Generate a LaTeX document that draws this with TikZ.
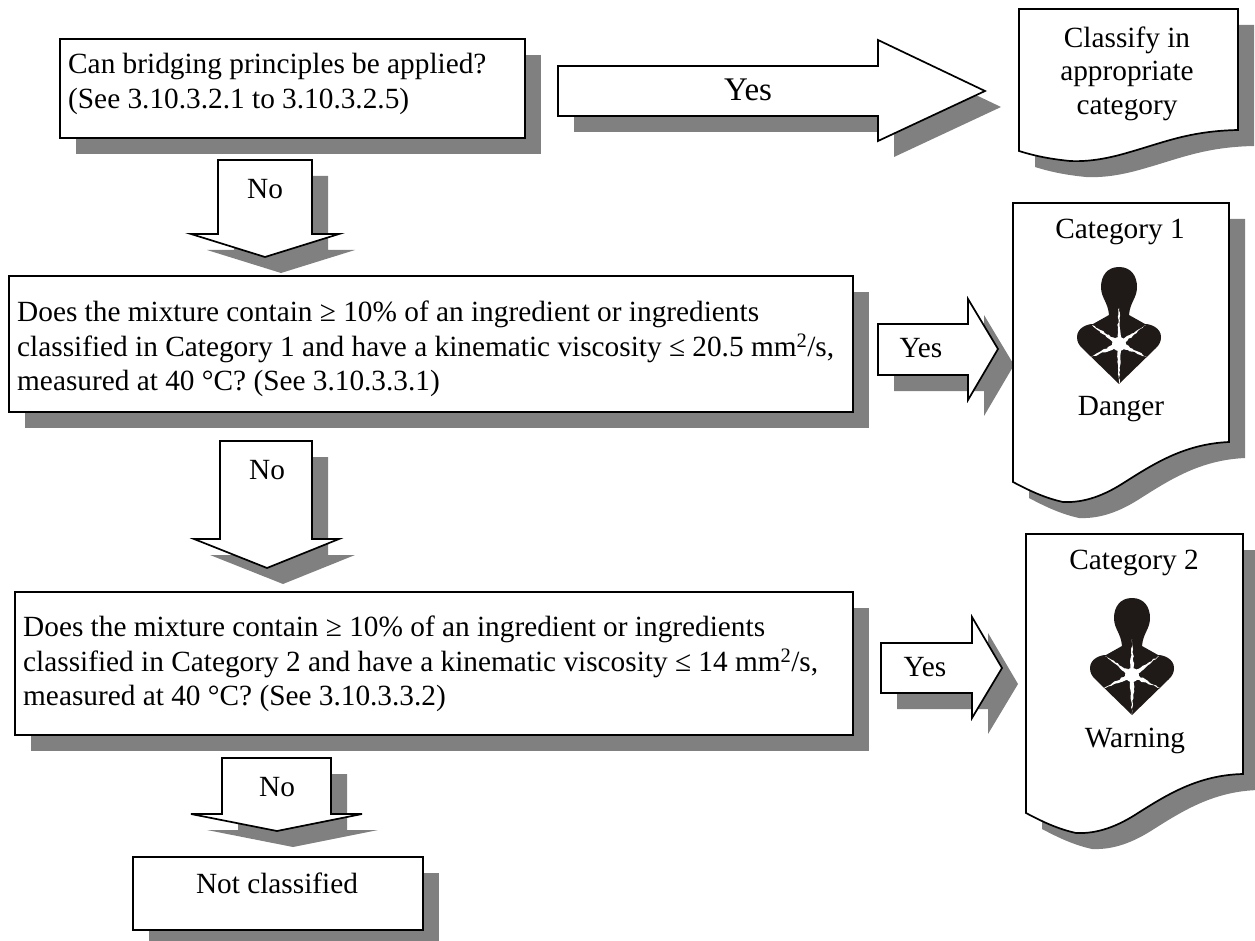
\documentclass[tikz,border=0pt]{standalone}
\usepackage{fontspec}
\setmainfont{Liberation Serif}
\usetikzlibrary{shadows,decorations.pathmorphing}
\definecolor{shadowgray}{HTML}{808080}
\definecolor{hazardblack}{HTML}{1F1A17}
\tikzset{
  box/.style={draw=black,fill=white,line width=1.7pt,line join=miter,
    drop shadow={shadow xshift=16pt,shadow yshift=-16pt,fill=shadowgray,opacity=1}},
  rectbox/.style={box,rectangle,anchor=north west,inner sep=0pt},
  txt/.style={font=\fontsize{29.3}{34.5}\selectfont,inner sep=0pt,anchor=base},
  txtleft/.style={txt,align=left,anchor=north west},
  hazard/.pic={
    % body and head
    \fill[hazardblack] (0,-77) .. controls (12,-77) and (18,-68) .. (18,-57)
      .. controls (18,-46) and (11,-42) .. (10,-29) -- (26,-20)
      .. controls (32,-20) and (42,-16) .. (42,-7)
      .. controls (42,-2) and (40,1) .. (37,4) -- (0,40) -- (-37,4)
      .. controls (-40,1) and (-42,-2) .. (-42,-7)
      .. controls (-42,-16) and (-32,-20) .. (-26,-20)
      -- (-10,-29) .. controls (-11,-42) and (-18,-46) .. (-18,-57)
      .. controls (-18,-68) and (-12,-77) .. (0,-77) -- cycle ;
    % cracks
    \fill[white,decorate,decoration={random steps,segment length=2.5pt,amplitude=0.7pt}]
      (0,-36) -- (-63:4.5) -- (27,-19) -- (-5:4.5) -- (28,13) -- (57:4.5)
      -- (0,40) -- (122:4.5) -- (-28,13) -- (185:4.5) -- (-27,-19) -- (243:4.5) -- cycle ;
    \fill[white] (0,0) circle [radius=7] ;
  }
}

\begin{document}
\begin{tikzpicture}[x=1pt,y=-1pt]
  \clip (0,0) rectangle (1255,941) ;
  % question boxes
  \node[rectbox,minimum width=465pt,minimum height=99pt] (bridging) at (59,38) {} ;
  \node[txtleft] (bridgingtext) at (68,53) {Can bridging principles be applied?\\(See 3.10.3.2.1 to 3.10.3.2.5)} ;
  \node[rectbox,minimum width=844pt,minimum height=136pt] (mixone) at (8,275) {} ;
  \node[txtleft] (mixonetext) at (17,301) {Does the mixture contain ≥ 10\% of an ingredient or ingredients\\
    classified in Category 1 and have a kinematic viscosity ≤ 20.5 mm\textsuperscript{2}/s,\\
    measured at 40 °C? (See 3.10.3.3.1)} ;
  \node[rectbox,minimum width=838pt,minimum height=143pt] (mixtwo) at (14,591) {} ;
  \node[txtleft] (mixtwotext) at (23,616) {Does the mixture contain ≥ 10\% of an ingredient or ingredients\\
    classified in Category 2 and have a kinematic viscosity ≤ 14 mm\textsuperscript{2}/s,\\
    measured at 40 °C? (See 3.10.3.3.2)} ;
  \node[rectbox,minimum width=290pt,minimum height=73pt] (notclass) at (132,856) {} ;
  \node[txt] (notclasstext) at (277,893) {Not classified} ;
  % yes arrows
  \draw[box] (558,66) -- (878,66) -- (878,40) -- (985,91) -- (878,141) -- (878,116) -- (558,116) -- cycle ;
  \node[txt,font=\fontsize{33}{38}\selectfont] (yesone) at (748,101) {Yes} ;
  \draw[box] (878,324) -- (968,324) -- (968,299) -- (998,349) -- (968,400) -- (968,375) -- (878,375) -- cycle ;
  \node[txt] (yestwo) at (921,357) {Yes} ;
  \draw[box] (881,643) -- (972,643) -- (972,617) -- (1002,668) -- (972,718) -- (972,693) -- (881,693) -- cycle ;
  \node[txt] (yesthree) at (925,676) {Yes} ;
  % no arrows
  \draw[box] (218,160) -- (312,160) -- (312,234) -- (339,234) -- (265,257) -- (191,234) -- (218,234) -- cycle ;
  \node[txt] (noone) at (265,199) {No} ;
  \draw[box] (220,441) -- (312,441) -- (312,539) -- (339,539) -- (267,568) -- (194,539) -- (220,539) -- cycle ;
  \node[txt] (notwo) at (267,479) {No} ;
  \draw[box] (222,758) -- (331,758) -- (331,814) -- (362,814) -- (277,831) -- (191,814) -- (222,814) -- cycle ;
  \node[txt] (nothree) at (277,796) {No} ;
  % result sheets
  \draw[box] (1019,9) -- (1238,9) -- (1238,130) .. controls (1190,131) and (1165,142) .. (1130,152)
    .. controls (1110,158) and (1090,162) .. (1070,161) .. controls (1050,159) and (1035,156) .. (1019,151) -- cycle ;
  \node[txt] (classify) at (1127,48) {Classify in} ;
  \node[txt] (appropriate) at (1127,81) {appropriate} ;
  \node[txt] (category) at (1127,115) {category} ;
  \draw[box] (1013,203) -- (1229,203) -- (1229,442) .. controls (1185,444) and (1155,463) .. (1125,482)
    .. controls (1105,495) and (1085,503) .. (1063,502) .. controls (1045,498) and (1030,491) .. (1013,482) -- cycle ;
  \node[txt] (catone) at (1120,239) {Category 1} ;
  \pic (hazardone) at (1119,344) {hazard} ;
  \node[txt] (danger) at (1121,415) {Danger} ;
  \draw[box] (1026,534) -- (1243,534) -- (1243,774) .. controls (1199,775) and (1168,794) .. (1138,813)
    .. controls (1118,826) and (1098,834) .. (1076,833) .. controls (1058,829) and (1043,822) .. (1026,813) -- cycle ;
  \node[txt] (cattwo) at (1134,569) {Category 2} ;
  \pic (hazardtwo) at (1132,675) {hazard} ;
  \node[txt] (warning) at (1135,747) {Warning} ;
\end{tikzpicture}
\end{document}
